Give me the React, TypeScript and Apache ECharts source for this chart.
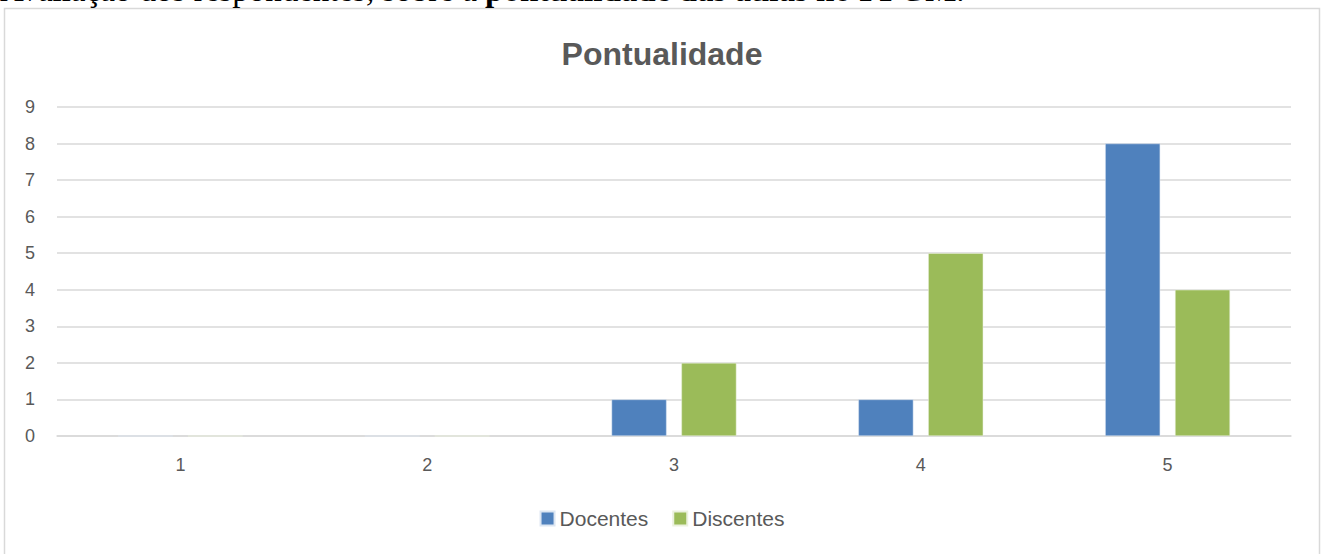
import React, { useEffect, useRef } from "react";
import * as echarts from "echarts";

const categories = ["1", "2", "3", "4", "5"];
const docentes = [0, 0, 1, 1, 8];
const discentes = [0, 0, 2, 5, 4];
const yTicks = { min: 0, max: 9, interval: 1 };
const titleText = "Pontualidade";
const captionRegular = "Avaliação dos respondentes, sobre a ";
const captionBold = "pontualidade das aulas no PPGM";

export default function App() {
  const ref = useRef<HTMLDivElement>(null);
  useEffect(() => {
    if (!ref.current) return;
    const chart = echarts.init(ref.current, null, { renderer: "svg" });
    const font = "'Liberation Sans', Arial, sans-serif";
    chart.setOption({
      animation: false,
      backgroundColor: "#ffffff",
      title: {
        text: titleText,
        left: "center",
        top: 33,
        textStyle: { fontFamily: font, fontSize: 32, fontWeight: "bold", color: "#595959" },
      },
      legend: {
        bottom: 20,
        left: "center",
        icon: "rect",
        itemWidth: 14,
        itemHeight: 14,
        itemGap: 24,
        itemTextGap: 6,
        textStyle: { fontFamily: font, fontSize: 21, color: "#595959" },
        data: ["Docentes", "Discentes"],
      },
      grid: { left: 57, right: 33, top: 107, bottom: 118, containLabel: false },
      xAxis: {
        type: "category",
        data: categories,
        axisLine: { lineStyle: { color: "#d9d9d9", width: 1.5 } },
        axisTick: { show: false },
        axisLabel: { fontFamily: font, fontSize: 18, color: "#595959", margin: 20 },
      },
      yAxis: {
        type: "value",
        min: yTicks.min,
        max: yTicks.max,
        interval: yTicks.interval,
        axisLine: { show: false },
        axisTick: { show: false },
        splitLine: { lineStyle: { color: "#d9d9d9", width: 1.5 } },
        axisLabel: { fontFamily: font, fontSize: 18, color: "#595959", margin: 22 },
      },
      series: [
        {
          name: "Docentes",
          type: "bar",
          data: docentes,
          barWidth: 55,
          barGap: "27%",
          itemStyle: { color: "#4f81bd", borderColor: "#dce6f2", borderWidth: 0.5 },
        },
        {
          name: "Discentes",
          type: "bar",
          data: discentes,
          barWidth: 55,
          barGap: "27%",
          itemStyle: { color: "#9bbb59", borderColor: "#ebf1de", borderWidth: 0.5 },
        },
      ],
      graphic: [
        {
          type: "rect",
          shape: { x: 4.5, y: 8.5, width: 1315, height: 600 },
          style: { fill: "none", stroke: "#d9d9d9", lineWidth: 1.5 },
          silent: true,
        },
        {
          type: "text",
          x: 0,
          y: -10,
          style: {
            text: "{r|" + captionRegular + "}{b|" + captionBold + "}{r|.}",
            verticalAlign: "middle",
            rich: {
              r: { fontFamily: "'Liberation Serif', serif", fontSize: 33, fill: "#000" },
              b: { fontFamily: "'Liberation Serif', serif", fontSize: 33, fontWeight: "bold", fill: "#000" },
            },
          },
          silent: true,
        },
      ],
    });
    return () => chart.dispose();
  }, []);
  return (
    <div
      ref={ref}
      style={{ position: "absolute", left: 0, top: 0, width: 1324, height: 554 }}
    />
  );
}
